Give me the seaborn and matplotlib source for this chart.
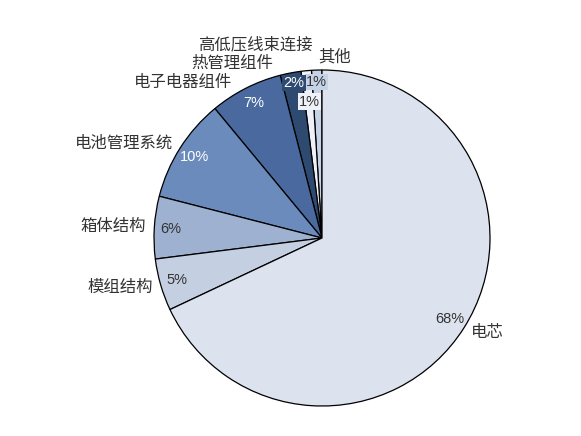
import matplotlib
matplotlib.use('Agg')
import matplotlib.pyplot as plt
import seaborn as sns

# 数据
labels = ['其他', '高低压线束连接', '热管理组件', '电子电器组件', '电池管理系统', '箱体结构', '模组结构', '电芯']
shares = [1, 1, 2, 7, 10, 6, 5, 68]
colors = ['#c6d2e6', '#eef1f7', '#2e4a70', '#4a6a9f', '#6c8bbd', '#9fb1d0', '#c4cfe2', '#dde3ee']
pct_colors = ['#333333', '#333333', 'white', 'white', 'white', '#333333', '#333333', '#333333']

sns.set_theme(style='white')
plt.rcParams['font.family'] = ['Noto Sans CJK SC', 'DejaVu Sans']

fig = plt.figure(figsize=(5.81, 4.36), dpi=100)
ax = fig.add_axes([154 / 581, 30 / 436, 336 / 581, 336 / 436])

wedges, texts, autotexts = ax.pie(
    shares, labels=labels, colors=colors, startangle=90,
    autopct=lambda p: f'{p:.0f}%', pctdistance=0.9, labeldistance=1.05,
    wedgeprops=dict(edgecolor='black', linewidth=0.9),
    textprops=dict(fontsize=11.8, color='#333333'))
ax.set_xlim(-1, 1)
ax.set_ylim(-1, 1)

for t, c in zip(autotexts, pct_colors):
    t.set_color(c)
    t.set_fontsize(10.5)
    t.set_family(['Liberation Sans', 'DejaVu Sans'])

# 顶部小扇区的标签手动摆放
def px(x, y):
    return (x - 322) / 168, (238 - y) / 168

label_pos = {0: (318, 57, 'left'), 1: (313, 45, 'right'), 2: (273, 63, 'right'), 3: (232, 82, 'right')}
for i, (x, y, ha) in label_pos.items():
    texts[i].set_position(px(x, y))
    texts[i].set_ha(ha)

pct_pos = {0: (316.5, 82), 1: (309.5, 101.5), 2: (294, 83)}
for i, (x, y) in pct_pos.items():
    autotexts[i].set_position(px(x, y))
    autotexts[i].set_bbox(dict(facecolor=colors[i], edgecolor='none', pad=1))

fig.savefig('out.png', dpi=100)
